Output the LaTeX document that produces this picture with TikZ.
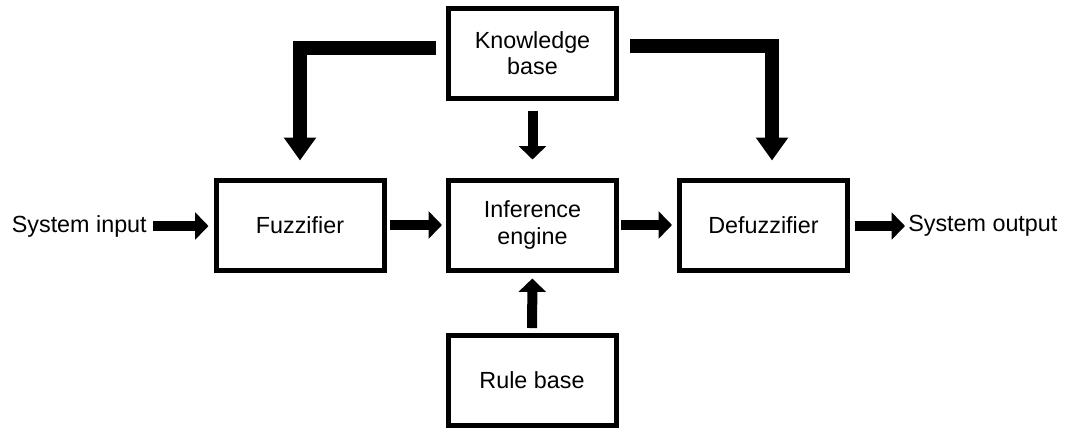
\documentclass[tikz,border=0pt]{standalone}
\usepackage{fontspec}
\setmainfont{Liberation Sans}
\usetikzlibrary{arrows.meta}
\begin{document}
\begin{tikzpicture}[x=0.75pt,y=-0.75pt,
  box/.style={draw,line width=3.75pt,minimum width=126pt,minimum height=67.5pt,inner sep=0pt,align=center,font=\fontsize{17.5}{20}\selectfont},
  lbl/.style={inner sep=0pt,font=\fontsize{17.5}{20}\selectfont},
  arr/.style={line width=7.5pt,-{Triangle[length=10pt,width=20pt]}},
  bigarr/.style={line width=10.5pt,line join=miter,-{Triangle[length=17.25pt,width=23.25pt]}}]
\useasboundingbox[fill=white] (0,0) rectangle (1068,430);
\node[box] (kb) at (532.5,53) {Knowledge\\base};
\node[box] (fz) at (300,225) {Fuzzifier};
\node[box] (ie) at (532.5,225) {Inference\\engine};
\node[box] (df) at (763.5,225) {Defuzzifier};
\node[box] (rb) at (532,380.5) {Rule base};
\node[lbl,anchor=east] (in) at (147,226) {System input};
\node[lbl,anchor=west] (out) at (908,226) {System output};
\coordinate (dfin) at ([xshift=6.4pt]df.north);
\draw[arr,shorten <=4.5pt,shorten >=3.75pt] (in) -- (fz.west |- in);
\draw[arr,shorten <=2.25pt,shorten >=3pt] (fz) -- (ie);
\draw[arr,shorten <=1.5pt,shorten >=3.75pt] (ie) -- (df);
\draw[arr,shorten <=3.75pt,shorten >=2.25pt] (df.east |- out) -- (out);
\draw[arr,shorten <=7.5pt,shorten >=13.5pt] (kb) -- (ie);
\draw[arr,shorten <=3.75pt,shorten >=4.5pt] (rb) -- (ie);
\draw[bigarr,shorten <=7.5pt,shorten >=12.75pt] (kb.west |- 0,48) -| (fz.north);
\draw[bigarr,shorten <=8.25pt,shorten >=12.75pt] (kb.east |- 0,46) -| (dfin);
\end{tikzpicture}
\end{document}
